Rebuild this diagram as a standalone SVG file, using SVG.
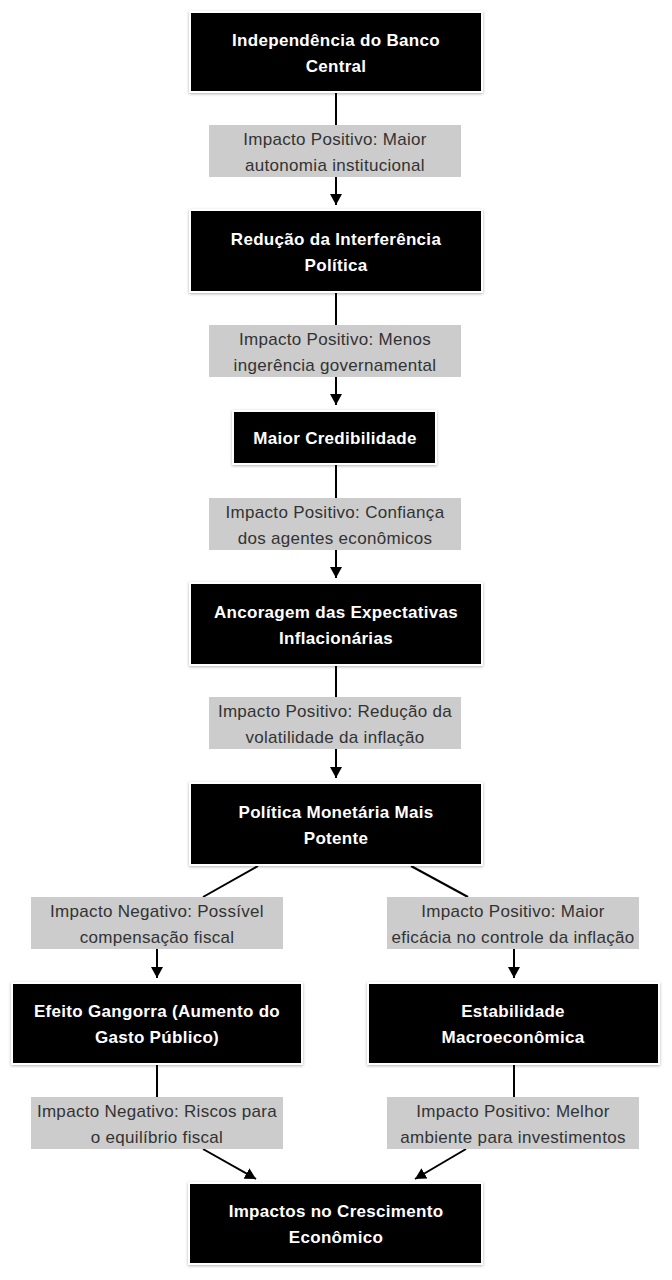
<svg xmlns="http://www.w3.org/2000/svg" width="672" height="1280" viewBox="0 0 672 1280">
  <defs>
    <style>
      .node rect { fill: #000; stroke: #fff; stroke-width: 2; filter: url(#shadow); }
      .node text { fill: #fff; font-family: "Liberation Sans", Arial, sans-serif; font-size: 17px; letter-spacing: 0.3px; font-weight: bold; text-anchor: middle; }
      .edge { stroke: #000; stroke-width: 2; fill: none; }
      .arrow { marker-end: url(#arrowhead); }
      .elabel rect { fill: #cccccc; }
      .elabel text { fill: #333; font-family: "Liberation Sans", Arial, sans-serif; font-size: 17px; letter-spacing: 0.3px; text-anchor: middle; }
    </style>
    <filter id="shadow" x="-10%" y="-10%" width="120%" height="130%">
      <feDropShadow dx="0" dy="1" stdDeviation="1.5" flood-color="#000" flood-opacity="0.3"/>
    </filter>
    <marker id="arrowhead" markerUnits="userSpaceOnUse" markerWidth="12" markerHeight="12" refX="11" refY="6" orient="auto">
      <path d="M0,0 L11,6 L0,12 z" fill="#000"/>
    </marker>
  </defs>
  <rect width="672" height="1280" fill="#fff"/>

  <g id="connectors">
    <line class="edge arrow" x1="336" y1="92" x2="336" y2="205"/>
    <line class="edge arrow" x1="336" y1="292" x2="336" y2="405"/>
    <line class="edge arrow" x1="336" y1="464" x2="336" y2="578"/>
    <line class="edge arrow" x1="336" y1="665" x2="336" y2="778"/>
    <line class="edge" x1="258" y1="866" x2="203" y2="897"/>
    <line class="edge arrow" x1="157" y1="949" x2="157" y2="978"/>
    <line class="edge" x1="411" y1="866" x2="468" y2="897"/>
    <line class="edge arrow" x1="514" y1="949" x2="514" y2="978"/>
    <line class="edge" x1="157" y1="1064" x2="157" y2="1097"/>
    <line class="edge arrow" x1="203" y1="1149" x2="256" y2="1179"/>
    <line class="edge" x1="514" y1="1064" x2="514" y2="1097"/>
    <line class="edge arrow" x1="466" y1="1149" x2="415" y2="1179"/>

    <g class="elabel" id="label-1">
      <rect x="209" y="125" width="252" height="52"/>
      <text x="335" y="145">Impacto Positivo: Maior</text>
      <text x="335" y="171">autonomia institucional</text>
    </g>
    <g class="elabel" id="label-2">
      <rect x="209" y="325" width="252" height="52"/>
      <text x="335" y="345">Impacto Positivo: Menos</text>
      <text x="335" y="371">ingerência governamental</text>
    </g>
    <g class="elabel" id="label-3">
      <rect x="209" y="498" width="252" height="52"/>
      <text x="335" y="518">Impacto Positivo: Confiança</text>
      <text x="335" y="544">dos agentes econômicos</text>
    </g>
    <g class="elabel" id="label-4">
      <rect x="209" y="697" width="252" height="52"/>
      <text x="335" y="717">Impacto Positivo: Redução da</text>
      <text x="335" y="743">volatilidade da inflação</text>
    </g>
    <g class="elabel" id="label-5a">
      <rect x="31" y="897" width="252" height="52"/>
      <text x="157" y="917">Impacto Negativo: Possível</text>
      <text x="157" y="943">compensação fiscal</text>
    </g>
    <g class="elabel" id="label-5b">
      <rect x="387" y="897" width="252" height="52"/>
      <text x="513" y="917">Impacto Positivo: Maior</text>
      <text x="513" y="943">eficácia no controle da inflação</text>
    </g>
    <g class="elabel" id="label-6a">
      <rect x="31" y="1097" width="252" height="52"/>
      <text x="157" y="1117">Impacto Negativo: Riscos para</text>
      <text x="157" y="1143">o equilíbrio fiscal</text>
    </g>
    <g class="elabel" id="label-6b">
      <rect x="387" y="1097" width="252" height="52"/>
      <text x="513" y="1117">Impacto Positivo: Melhor</text>
      <text x="513" y="1143">ambiente para investimentos</text>
    </g>
  </g>

  <g class="node" id="node-independencia">
    <rect x="190" y="12" width="292" height="80"/>
    <text x="336" y="46">Independência do Banco</text>
    <text x="336" y="72">Central</text>
  </g>
  <g class="node" id="node-reducao">
    <rect x="190" y="210" width="292" height="82"/>
    <text x="336" y="245">Redução da Interferência</text>
    <text x="336" y="271">Política</text>
  </g>
  <g class="node" id="node-credibilidade">
    <rect x="233" y="411" width="203" height="53"/>
    <text x="335" y="444">Maior Credibilidade</text>
  </g>
  <g class="node" id="node-ancoragem">
    <rect x="190" y="583" width="292" height="82"/>
    <text x="336" y="618">Ancoragem das Expectativas</text>
    <text x="336" y="644">Inflacionárias</text>
  </g>
  <g class="node" id="node-politica">
    <rect x="190" y="783" width="292" height="82"/>
    <text x="336" y="818">Política Monetária Mais</text>
    <text x="336" y="844">Potente</text>
  </g>
  <g class="node" id="node-gangorra">
    <rect x="12" y="983" width="290" height="81"/>
    <text x="157" y="1017">Efeito Gangorra (Aumento do</text>
    <text x="157" y="1043">Gasto Público)</text>
  </g>
  <g class="node" id="node-estabilidade">
    <rect x="368" y="983" width="291" height="81"/>
    <text x="513" y="1017">Estabilidade</text>
    <text x="513" y="1043">Macroeconômica</text>
  </g>
  <g class="node" id="node-crescimento">
    <rect x="189" y="1183" width="293" height="81"/>
    <text x="336" y="1217">Impactos no Crescimento</text>
    <text x="336" y="1243">Econômico</text>
  </g>
</svg>
